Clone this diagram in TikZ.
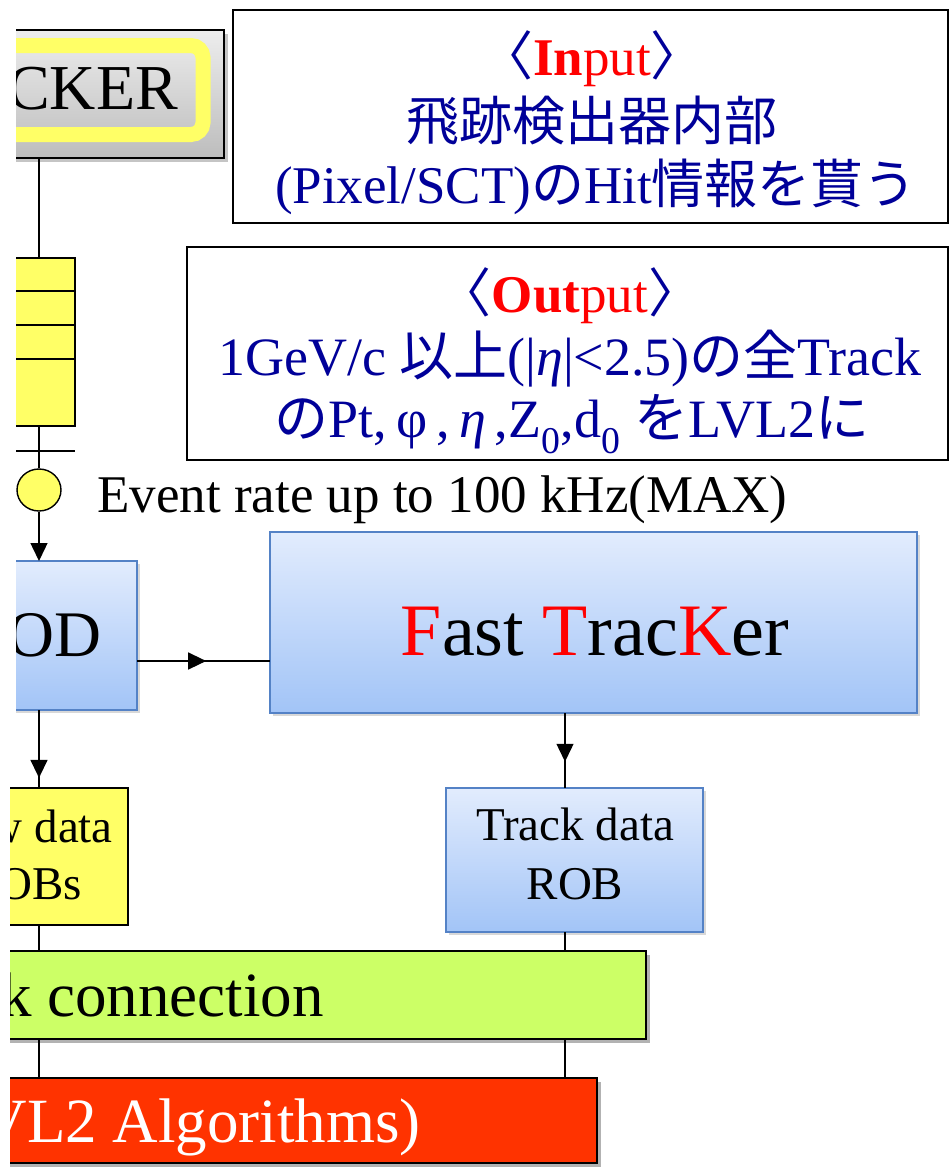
\documentclass[tikz,border=0pt]{standalone}
\usepackage{fontspec}
\setmainfont{Liberation Serif}
\newfontfamily\cjk{Noto Sans CJK JP}
\usetikzlibrary{arrows.meta,shapes.geometric,shadows,decorations.markings}
\definecolor{navy}{HTML}{000099}
\definecolor{ylw}{HTML}{FFFF66}
\definecolor{grn}{HTML}{CCFF66}
\definecolor{rd}{HTML}{FF3300}
\definecolor{bbord}{RGB}{84,130,198}
\definecolor{btop}{RGB}{226,236,253}
\definecolor{bbot}{RGB}{162,196,247}
\begin{document}
\begin{tikzpicture}[x=1pt,y=-1pt,
  fs/.style={font=\fontsize{#1}{#1}\selectfont},
  ln/.style={line width=1.4pt},
  tip/.style={-{Triangle[length=18pt,width=17pt]}},
  midarrow/.style={postaction={decorate},decoration={markings,
      mark=at position #1 with {\arrow{Triangle[length=18pt,width=17pt]}}}},
  box/.style={rectangle,inner sep=0pt,outer sep=0pt},
  bluebox/.style={box,draw=bbord,line width=1.6pt,top color=btop,bottom color=bbot,
      drop shadow={opacity=0.3,shadow xshift=3pt,shadow yshift=-3pt}},
  blackbox/.style={box,draw=black,line width=1.4pt,
      drop shadow={opacity=0.6,shadow xshift=4pt,shadow yshift=-4pt}},
  infobox/.style={box,draw=black,line width=1.3pt},
  jp/.style={fs=53,text=navy,anchor=base,inner sep=0pt}
  ]
\useasboundingbox (0,0) rectangle (951,1167);
\fill[white] (0,0) rectangle (951,1167);
\coordinate (colB) at (565,0);
\coordinate (hl) at (0,661);
\coordinate (tk) at (0,451);

% ---- information boxes
\node[infobox,minimum width=715pt,minimum height=213pt] (inbox) at (590.5,116.5) {};
\node[jp] (in1) at (592,75) {{\cjk 〈}\textcolor{red}{\textbf{In}put}{\cjk 〉}};
\node[jp] (in2) at (592,140) {\cjk 飛跡検出器内部};
\node[jp] (in3) at (596,203) {(Pixel/SCT){\cjk の}Hit{\cjk 情報を貰う}};

\node[infobox,minimum width=761pt,minimum height=213pt] (outbox) at (567.5,353.5) {};
\node[jp] (out1) at (570,312) {{\cjk 〈}\textcolor{red}{\textbf{Out}put}{\cjk 〉}};
\node[jp,fs=54] (out2) at (570,375) {1GeV/c {\cjk 以上}(|\textit{η}|<2.5){\cjk の全}Track};
\node[jp,fs=54] (out3) at (572,437) {{\cjk の}Pt,\,φ\,,\,\textit{η}\,,Z\textsubscript{0},d\textsubscript{0} {\cjk を}LVL2{\cjk に}};

% ---- upper left part (clipped)
\begin{scope}
\clip (16,0) rectangle (951,760);
\node[box,draw=black,line width=1.4pt,top color=black!7,bottom color=black!26,
      drop shadow={opacity=0.45,shadow xshift=4pt,shadow yshift=-4pt},
      minimum width=284pt,minimum height=128pt] (cker) at (82,94) {};
\draw[ylw,line width=15pt,rounded corners=12pt] (-40,45.5) rectangle (203,134.5);
\node[fs=64,anchor=base east,inner sep=0pt] (ckert) at (178,109) {CKER};

\node[box,draw=black,line width=1.4pt,fill=ylw,minimum width=72pt,minimum height=168pt] (fifo) at (39,342) {};
\foreach \yy in {291,325,359}{\draw[ln] (fifo.west |- 0,\yy) -- (fifo.east |- 0,\yy);}
\draw[ln] (fifo.south west |- tk) -- (fifo.south east |- tk);
\node[ellipse,draw=black,line width=1.4pt,fill=ylw,inner sep=0pt,minimum width=44pt,minimum height=42pt] (circ) at (39,490) {};

\node[bluebox,minimum width=196pt,minimum height=149pt] (rod) at (39,635.5) {};
\node[fs=65,anchor=base east,inner sep=0pt] (rodt) at (102,656) {OD};
\end{scope}

\node[fs=53,anchor=base west,inner sep=0pt] (rate) at (97,512) {Event rate up to 100 kHz(MAX)};

\node[bluebox,minimum width=647pt,minimum height=181pt] (ftk) at (593.5,622.5) {};
\node[fs=74,anchor=base,inner sep=0pt] (ftkt) at (595,655)
  {\textcolor{red}{F}ast \textcolor{red}{T}rac\textcolor{red}{K}er};

\node[bluebox,minimum width=257pt,minimum height=144pt] (trk) at (574.5,860) {};
\node[fs=47,anchor=base,inner sep=0pt] (trkt1) at (575,840) {Track data};
\node[fs=47,anchor=base,inner sep=0pt] (trkt2) at (575,899) {ROB};

% ---- lower left part (clipped)
\begin{scope}
\clip (10,760) rectangle (951,1167);
\node[box,draw=black,line width=1.4pt,fill=ylw,minimum width=178pt,minimum height=137pt] (raw) at (39,856.5) {};
\node[fs=47,anchor=base east,inner sep=0pt] (rawt1) at (113,842) {w data};
\node[fs=47,anchor=base east,inner sep=0pt] (rawt2) at (82,899) {OBs};

\node[blackbox,fill=grn,minimum width=746pt,minimum height=88pt] (net) at (273,995) {};
\node[fs=63,anchor=base east,inner sep=0pt] (nett) at (324,1016) {k connection};

\node[blackbox,fill=rd,minimum width=697pt,minimum height=85pt] (l2) at (248.5,1120.5) {};
\node[fs=63,anchor=base east,inner sep=0pt,text=white] (l2t) at (421,1142) {VL2 Algorithms)};
\end{scope}

% ---- connectors
\draw[ln] (cker.south -| fifo.north) -- (fifo.north);
\draw[ln] (fifo.south) -- (circ.north);
\draw[ln,tip] (circ.south) -- (rod.north);
\draw[ln,midarrow=0.52] (rod.east |- hl) -- (ftk.west |- hl);
\draw[ln,midarrow=0.65] (ftk.south -| colB) -- (trk.north -| colB);
\draw[ln,midarrow=0.87] (rod.south) -- (raw.north);
\draw[ln] (raw.south) -- (net.north -| raw.south);
\draw[ln] (net.south -| raw.south) -- (l2.north -| raw.south);
\draw[ln] (trk.south -| colB) -- (net.north -| colB);
\draw[ln] (net.south -| colB) -- (l2.north -| colB);
\end{tikzpicture}
\end{document}
